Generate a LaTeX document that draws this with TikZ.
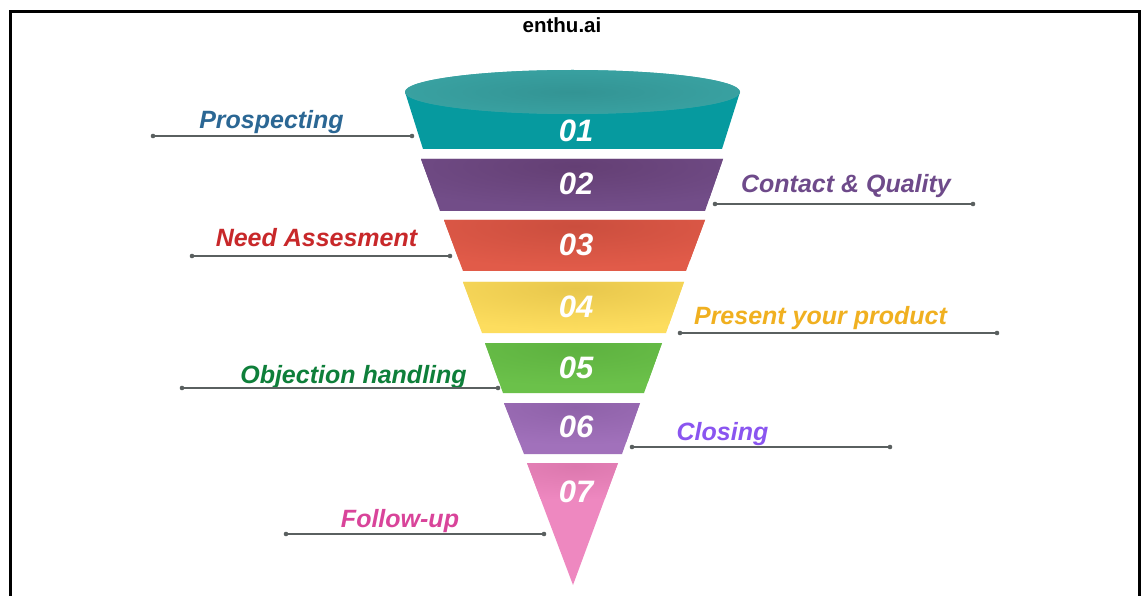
\documentclass[tikz,border=0pt]{standalone}
\usepackage{fontspec}
\setmainfont{Liberation Sans}

% band colours (base / darker glow)
\definecolor{tealBody}{HTML}{069A9F}
\definecolor{tealTop}{HTML}{3CA8A8}
\definecolor{tealTopGlow}{HTML}{339494}
\definecolor{plumBase}{HTML}{724D88}
\definecolor{plumGlow}{HTML}{643F74}
\definecolor{coralBase}{HTML}{E15B49}
\definecolor{coralGlow}{HTML}{CB4E3E}
\definecolor{sunBase}{HTML}{FDDD5E}
\definecolor{sunGlow}{HTML}{E8C74C}
\definecolor{leafBase}{HTML}{6BC14A}
\definecolor{leafGlow}{HTML}{5EB240}
\definecolor{lilacBase}{HTML}{A171BB}
\definecolor{lilacGlow}{HTML}{8F62A9}
\definecolor{rosePink}{HTML}{EE88C0}
\definecolor{roseGlow}{HTML}{DC78AE}
% label colours
\definecolor{cProsp}{HTML}{2B6794}
\definecolor{cNeed}{HTML}{C8282A}
\definecolor{cContact}{HTML}{6E4A8A}
\definecolor{cPresent}{HTML}{F0B020}
\definecolor{cObject}{HTML}{0E7F3A}
\definecolor{cClosing}{HTML}{8A55F0}
\definecolor{cFollow}{HTML}{D9449A}
\definecolor{leadGray}{HTML}{5A6060}

% #1 base colour, #2 glow colour, #3 band outline, #4 glow ellipse
\newcommand\bandfill[4]{%
  \fill[#1] #3;
  \begin{scope}
    \clip #3;
    \shade[inner color=#2, outer color=#1] #4;
  \end{scope}}

\begin{document}
\begin{tikzpicture}[x=1pt, y=-1pt,
  num/.style={text=white, font=\fontsize{31}{31}\selectfont\bfseries\itshape,
              inner sep=0pt, anchor=base},
  lab/.style={font=\fontsize{25}{25}\selectfont\bfseries\itshape,
              inner sep=0pt, anchor=base},
  leader/.style={draw=leadGray, line width=1.2pt},
  leaderdot/.style={fill=leadGray}]

\useasboundingbox (0,0) rectangle (1141,596);
\fill[white] (0,0) rectangle (1141,596);

% frame, open at the bottom
\draw[line width=3pt] (10,596) -- (10,11.5) -- (1139,11.5) -- (1139,596);

\node[font=\fontsize{20.5}{20.5}\selectfont\bfseries, inner sep=0pt, anchor=base]
  (title) at (562,33) {enthu.ai};

% ---------- funnel bands ----------
% band 1: body and top rim
\fill[tealBody] (405,92) -- (423,149) -- (722,149) -- (740,92) -- cycle;
\bandfill{tealTop}{tealTopGlow}{(572.5,92) ellipse (167.5pt and 22pt)}
  {(572.5,92) ellipse (260pt and 36pt)}

\bandfill{plumBase}{plumGlow}{(421,159) -- (440,211) -- (705,211) -- (723,159) -- cycle}
  {(575,166) ellipse (210pt and 42pt)}
\bandfill{coralBase}{coralGlow}{(444,220) -- (463,271) -- (686,271) -- (705,220) -- cycle}
  {(575,226) ellipse (200pt and 42pt)}
\bandfill{sunBase}{sunGlow}{(463,282) -- (482,333) -- (666,333) -- (684,282) -- cycle}
  {(575,288) ellipse (190pt and 42pt)}
\bandfill{leafBase}{leafGlow}{(485,343) -- (503,393) -- (644,393) -- (662,343) -- cycle}
  {(575,348) ellipse (170pt and 38pt)}
\bandfill{lilacBase}{lilacGlow}{(504,403) -- (524,454) -- (622,454) -- (640,403) -- cycle}
  {(575,407) ellipse (150pt and 38pt)}
\bandfill{rosePink}{roseGlow}{(527,463) -- (573,585) -- (618,463) -- cycle}
  {(575,466) ellipse (130pt and 34pt)}

% ---------- step numbers ----------
\node[num] (n1) at (576,142) {01};
\node[num] (n2) at (576,195) {02};
\node[num] (n3) at (576,256) {03};
\node[num] (n4) at (576,317) {04};
\node[num] (n5) at (576,378) {05};
\node[num] (n6) at (576,437) {06};
\node[num] (n7) at (576,502) {07};

% ---------- stage labels and leader lines ----------
\node[lab, text=cProsp]   (l1) at (271.5,129) {Prospecting};
\node[lab, text=cContact] (l2) at (846,193)   {Contact \& Quality};
\node[lab, text=cNeed]    (l3) at (316.5,247) {Need Assesment};
\node[lab, text=cPresent] (l4) at (820.5,324) {Present your product};
\node[lab, text=cObject]  (l5) at (353.5,383) {Objection handling};
\node[lab, text=cClosing] (l6) at (722.5,440) {Closing};
\node[lab, text=cFollow]  (l7) at (400,527)   {Follow-up};

\coordinate (a1) at (153,136); \coordinate (b1) at (412,136);
\coordinate (a2) at (715,204); \coordinate (b2) at (973,204);
\coordinate (a3) at (192,256); \coordinate (b3) at (450,256);
\coordinate (a4) at (680,333); \coordinate (b4) at (997,333);
\coordinate (a5) at (182,388); \coordinate (b5) at (498,388);
\coordinate (a6) at (632,447); \coordinate (b6) at (890,447);
\coordinate (a7) at (286,534); \coordinate (b7) at (544,534);

% each leader: a thin rule with a dot at both ends
\foreach \i in {1,...,7}{
  \draw[leader] (a\i) -- (b\i);
  \fill[leaderdot] (a\i) circle (2.3pt) (b\i) circle (2.3pt);
}

\end{tikzpicture}
\end{document}
